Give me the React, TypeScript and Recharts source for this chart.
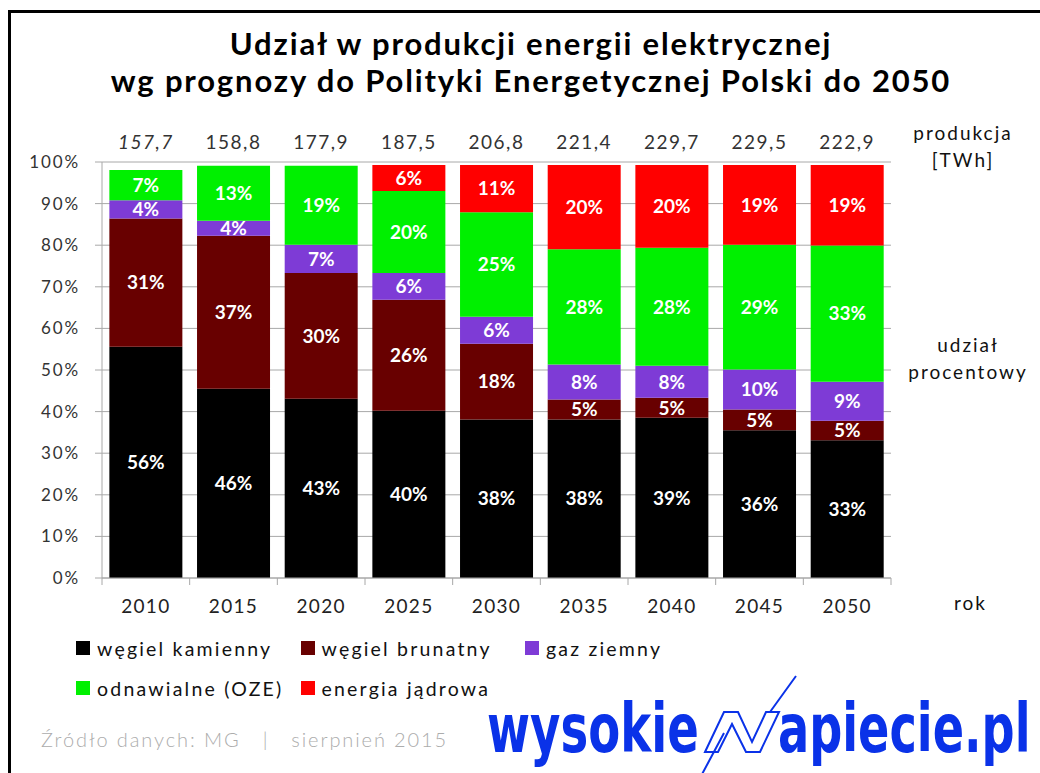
import React from "react";
import { BarChart, Bar, XAxis, YAxis, CartesianGrid, LabelList } from "recharts";

// ---------- data ----------
const years = ["2010", "2015", "2020", "2025", "2030", "2035", "2040", "2045", "2050"];
const production = ["157,7", "158,8", "177,9", "187,5", "206,8", "221,4", "229,7", "229,5", "222,9"];

const hardCoal = [55.6, 45.5, 43.1, 40.2, 38.1, 38.1, 38.5, 35.5, 33.1];
const lignite = [30.8, 36.8, 30.2, 26.7, 18.2, 4.8, 4.8, 5.0, 4.7];
const gas = [4.4, 3.6, 6.8, 6.4, 6.5, 8.4, 7.7, 9.6, 9.4];
const renewables = [7.3, 13.2, 19.0, 19.7, 25.1, 27.7, 28.4, 30.0, 32.7];
const nuclear = [0, 0, 0, 6.3, 11.4, 20.3, 19.9, 19.2, 19.4];

const hardCoalLabels = ["56%", "46%", "43%", "40%", "38%", "38%", "39%", "36%", "33%"];
const ligniteLabels = ["31%", "37%", "30%", "26%", "18%", "5%", "5%", "5%", "5%"];
const gasLabels = ["4%", "4%", "7%", "6%", "6%", "8%", "8%", "10%", "9%"];
const renewablesLabels = ["7%", "13%", "19%", "20%", "25%", "28%", "28%", "29%", "33%"];
const nuclearLabels = ["", "", "", "6%", "11%", "20%", "20%", "19%", "19%"];

const yTicks = [0, 10, 20, 30, 40, 50, 60, 70, 80, 90, 100];

const seriesNames = ["węgiel kamienny", "węgiel brunatny", "gaz ziemny", "odnawialne (OZE)", "energia jądrowa"];
const seriesKeys = ["kam", "bru", "gaz", "oze", "jad"];
const seriesColors = ["#000000", "#680000", "#7e3bd6", "#00f000", "#ff0000"];

const data = years.map((y, i) => ({
  year: y,
  prod: production[i],
  kam: hardCoal[i],
  bru: lignite[i],
  gaz: gas[i],
  oze: renewables[i],
  jad: nuclear[i],
  kamL: hardCoalLabels[i],
  bruL: ligniteLabels[i],
  gazL: gasLabels[i],
  ozeL: renewablesLabels[i],
  jadL: nuclearLabels[i],
}));

// ---------- layout ----------
const W = 1040;
const H = 773;
const M = { top: 132, right: 149, bottom: 155, left: 42 };
const Y_W = 60;
const TOP_H = 30;
const X_H = 40;
const PLOT_W = W - M.left - M.right - Y_W;
const STEP = PLOT_W / years.length;
const FONT = "Lato, 'Open Sans', sans-serif";
const GRID = "#a8a8a8";
const BLUE = "#0a32e8";

const XTick = (props: any) => {
  const { x, y, payload, index } = props;
  return (
    <g>
      <line x1={x - STEP / 2} y1={y} x2={x - STEP / 2} y2={y + 7} stroke={GRID} />
      {index === years.length - 1 && (
        <line x1={x + STEP / 2} y1={y} x2={x + STEP / 2} y2={y + 7} stroke={GRID} />
      )}
      <text x={x} y={y + 35} textAnchor="middle" fontFamily={FONT} fontSize={19} letterSpacing={1.3} fill="#222">
        {payload.value}
      </text>
    </g>
  );
};

const TopTick = (props: any) => {
  const { x, y, payload, index } = props;
  return (
    <text
      x={x}
      y={y - 13}
      textAnchor="middle"
      fontFamily={FONT}
      fontSize={19}
      letterSpacing={1.5}
      fontStyle={index === 0 ? "italic" : "normal"}
      fill="#333"
    >
      {payload.value}
    </text>
  );
};

const YTick = (props: any) => {
  const { y, payload } = props;
  return (
    <text x={80} y={y + 6} textAnchor="end" fontFamily={FONT} fontSize={17} letterSpacing={1.9} fill="#333">
      {payload.value + "%"}
    </text>
  );
};

const labelStyle = { fontFamily: FONT, fontSize: 19, fontWeight: 700 } as any;

export default function App() {
  return (
    <div
      style={{
        position: "absolute",
        left: 0,
        top: 0,
        width: W,
        height: H,
        overflow: "hidden",
        background: "#fff",
        fontFamily: FONT,
      }}
    >
      {/* frame */}
      <div
        style={{
          position: "absolute",
          left: 8,
          top: 10,
          width: 1100,
          height: 820,
          border: "3px solid #000",
          boxSizing: "border-box",
        }}
      />

      {/* title */}
      <div
        style={{
          position: "absolute",
          left: 31,
          width: 1000,
          top: 25,
          textAlign: "center",
          fontSize: 31,
          fontWeight: 700,
          lineHeight: "37px",
          color: "#000",
          letterSpacing: 1.85,
        }}
      >
        <div>Udział w produkcji energii elektrycznej</div>
        <div>wg prognozy do Polityki Energetycznej Polski do 2050</div>
      </div>

      <div style={{ position: "absolute", left: 0, top: 0 }}>
        <BarChart width={W} height={H} data={data} margin={M} barCategoryGap="8.4%">
          <CartesianGrid vertical={false} stroke={GRID} />
          <XAxis
            dataKey="year"
            height={X_H}
            tickSize={0}
            tickMargin={0}
            tickLine={false}
            axisLine={{ stroke: GRID }}
            tick={<XTick />}
            interval={0}
          />
          <XAxis
            xAxisId="top"
            orientation="top"
            dataKey="prod"
            height={TOP_H}
            tickSize={0}
            tickMargin={0}
            tickLine={false}
            axisLine={false}
            tick={<TopTick />}
            interval={0}
          />
          <YAxis
            width={Y_W}
            domain={[0, 100]}
            ticks={yTicks}
            interval={0}
            tickSize={7}
            tickMargin={14}
            axisLine={{ stroke: GRID }}
            tickLine={{ stroke: GRID }}
            tick={<YTick />}
          />
          {seriesKeys.map((k, i) => (
            <Bar key={k} dataKey={k} stackId="a" fill={seriesColors[i]} isAnimationActive={false}>
              <LabelList dataKey={k + "L"} position="center" fill="#ffffff" style={labelStyle} />
            </Bar>
          ))}
        </BarChart>
      </div>

      {/* right-side notes */}
      <div style={{ position: "absolute", left: 893, width: 140, top: 119, textAlign: "center", fontSize: 19, lineHeight: "27px", color: "#111", letterSpacing: 2 }}>
        <div>produkcja</div>
        <div>[TWh]</div>
      </div>
      <div style={{ position: "absolute", left: 893, width: 150, top: 331, textAlign: "center", fontSize: 19, lineHeight: "27px", color: "#111", letterSpacing: 2 }}>
        <div>udział</div>
        <div>procentowy</div>
      </div>
      <div style={{ position: "absolute", left: 954, top: 591, fontSize: 19, color: "#111", letterSpacing: 2 }}>rok</div>

      {/* legend */}
      {seriesNames.map((n, i) => (
        <div
          key={n}
          style={{
            position: "absolute",
            left: 76 + (i % 3) * 224.5,
            top: 636 + Math.floor(i / 3) * 40,
            height: 24,
            display: "flex",
            alignItems: "center",
            fontSize: 19.5,
            letterSpacing: 2.2,
            color: "#111",
            whiteSpace: "nowrap",
          }}
        >
          <span style={{ display: "inline-block", width: 14, height: 14, background: seriesColors[i], marginRight: 7 }} />
          {n}
        </div>
      ))}

      {/* source */}
      <div
        style={{
          position: "absolute",
          left: 41,
          top: 727,
          fontSize: 20,
          fontWeight: 300,
          color: "#acacac",
          letterSpacing: 1.9,
          whiteSpace: "pre",
        }}
      >
        {"Źródło danych: MG   |   sierpnień 2015"}
      </div>

      {/* logo */}
      <svg width={W} height={H} style={{ position: "absolute", left: 0, top: 0, pointerEvents: "none" }}>
        <g transform="translate(487 752) scale(0.686 1)">
          <text x={0} y={0} fontFamily="'DejaVu Sans', sans-serif" fontWeight="bold" fontSize={68} fill={BLUE}>
            wysokie
          </text>
        </g>
        <path
          d="M 705 752 L 724 712 L 738 712 L 752 742 L 766 712 L 779 712 L 760 752 L 746 752 L 732 724 L 718 752 Z"
          fill="#fff"
          stroke={BLUE}
          strokeWidth={2}
        />
        <path d="M 700 778 L 724 733 M 770 712 L 796 676" stroke={BLUE} strokeWidth={2} fill="none" />
        <g transform="translate(778 752) scale(0.68 1)">
          <text x={0} y={0} fontFamily="'DejaVu Sans', sans-serif" fontWeight="bold" fontSize={68} fill={BLUE}>
            apiecie.pl
          </text>
        </g>
      </svg>
    </div>
  );
}
